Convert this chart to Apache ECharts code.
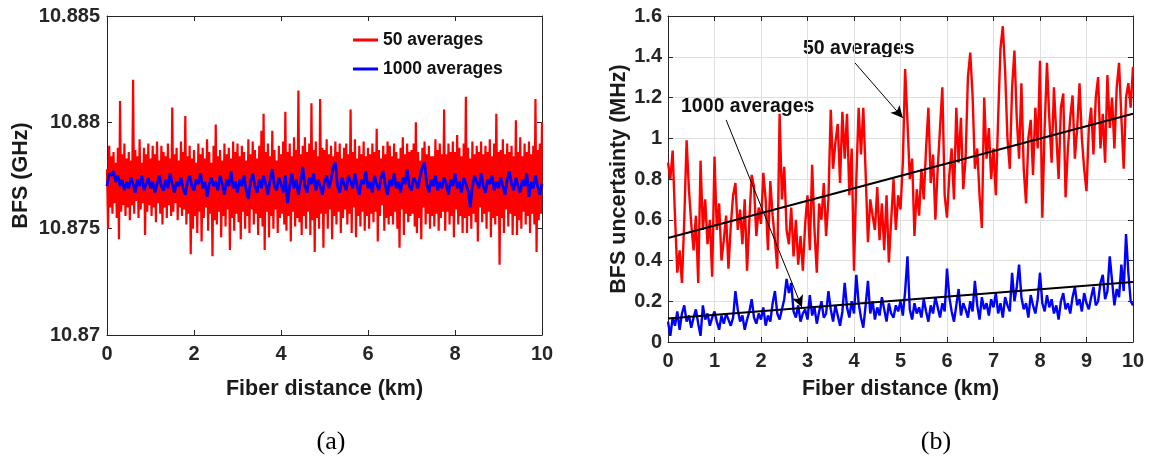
<!DOCTYPE html>
<html>
<head>
<meta charset="utf-8">
<script src="https://cdn.jsdelivr.net/npm/echarts@6/dist/echarts.min.js"></script>
<style>
html,body{margin:0;padding:0;background:#fff;}
#chart{width:1157px;height:459px;}
</style>
</head>
<body>
<div id="chart"></div>
<script>
// ---------- DATA ----------
// sampling positions along the fiber (km)
const distanceKm = Array.from({length: 201}, (_, i) => +(i * 0.05).toFixed(2));      // 0.05 km step
const distanceFineKm = Array.from({length: 401}, (_, i) => +(i * 0.025).toFixed(3)); // 0.025 km step

// (a) BFS (GHz), 50 averages (0.025 km step)
const bfs50 = [
10.8778,10.8750,10.8789,10.8760,10.8784,10.8757,10.8786,10.8762,10.8781,10.8755,10.8788,10.8745,10.8810,10.8758,10.8785,10.8761,10.8790,10.8756,10.8783,10.8760,
10.8786,10.8754,10.8782,10.8761,10.8820,10.8757,10.8787,10.8763,10.8784,10.8755,10.8792,10.8759,10.8781,10.8762,10.8788,10.8747,10.8785,10.8758,10.8790,10.8761,
10.8783,10.8756,10.8789,10.8760,10.8785,10.8753,10.8791,10.8762,10.8782,10.8757,10.8789,10.8752,10.8786,10.8760,10.8784,10.8755,10.8790,10.8761,10.8783,10.8756,
10.8807,10.8758,10.8785,10.8762,10.8788,10.8754,10.8782,10.8760,10.8791,10.8756,10.8786,10.8759,10.8803,10.8752,10.8784,10.8757,10.8789,10.8738,10.8783,10.8750,
10.8787,10.8756,10.8781,10.8748,10.8790,10.8758,10.8785,10.8744,10.8788,10.8755,10.8783,10.8760,10.8792,10.8749,10.8786,10.8757,10.8781,10.8737,10.8789,10.8754,
10.8799,10.8752,10.8784,10.8758,10.8787,10.8746,10.8782,10.8756,10.8790,10.8751,10.8785,10.8759,10.8788,10.8740,10.8783,10.8755,10.8791,10.8749,10.8786,10.8757,
10.8790,10.8753,10.8784,10.8745,10.8789,10.8758,10.8786,10.8750,10.8782,10.8756,10.8792,10.8748,10.8785,10.8759,10.8791,10.8752,10.8787,10.8757,10.8783,10.8747,
10.8789,10.8755,10.8796,10.8751,10.8804,10.8740,10.8786,10.8758,10.8790,10.8746,10.8784,10.8756,10.8796,10.8750,10.8787,10.8759,10.8782,10.8748,10.8789,10.8755,
10.8785,10.8757,10.8791,10.8752,10.8805,10.8749,10.8786,10.8756,10.8790,10.8744,10.8784,10.8758,10.8793,10.8751,10.8787,10.8755,10.8815,10.8753,10.8785,10.8747,
10.8789,10.8756,10.8793,10.8750,10.8786,10.8758,10.8790,10.8747,10.8809,10.8754,10.8787,10.8739,10.8791,10.8755,10.8784,10.8750,10.8811,10.8757,10.8788,10.8741,
10.8787,10.8757,10.8792,10.8750,10.8785,10.8759,10.8789,10.8745,10.8784,10.8756,10.8791,10.8752,10.8786,10.8758,10.8790,10.8748,10.8783,10.8755,10.8788,10.8759,
10.8790,10.8752,10.8785,10.8757,10.8806,10.8748,10.8786,10.8760,10.8792,10.8746,10.8783,10.8756,10.8789,10.8751,10.8785,10.8758,10.8791,10.8749,10.8784,10.8756,
10.8788,10.8750,10.8785,10.8757,10.8790,10.8753,10.8786,10.8758,10.8797,10.8744,10.8787,10.8756,10.8783,10.8761,10.8789,10.8749,10.8785,10.8755,10.8791,10.8752,
10.8789,10.8756,10.8784,10.8752,10.8790,10.8758,10.8786,10.8750,10.8783,10.8741,10.8788,10.8759,10.8793,10.8747,10.8785,10.8757,10.8790,10.8753,10.8786,10.8756,
10.8787,10.8757,10.8790,10.8751,10.8800,10.8748,10.8786,10.8755,10.8782,10.8745,10.8788,10.8760,10.8791,10.8752,10.8785,10.8757,10.8789,10.8750,10.8784,10.8756,
10.8784,10.8751,10.8792,10.8757,10.8787,10.8749,10.8790,10.8755,10.8785,10.8758,10.8806,10.8749,10.8785,10.8758,10.8790,10.8752,10.8786,10.8756,10.8791,10.8746,
10.8786,10.8759,10.8794,10.8752,10.8788,10.8756,10.8784,10.8748,10.8790,10.8755,10.8812,10.8748,10.8788,10.8756,10.8783,10.8750,10.8791,10.8757,10.8785,10.8753,
10.8789,10.8744,10.8786,10.8760,10.8791,10.8753,10.8785,10.8757,10.8789,10.8750,10.8786,10.8758,10.8792,10.8746,10.8784,10.8755,10.8790,10.8752,10.8804,10.8756,
10.8786,10.8733,10.8787,10.8755,10.8792,10.8748,10.8785,10.8759,10.8790,10.8751,10.8786,10.8757,10.8789,10.8747,10.8784,10.8756,10.8801,10.8747,10.8786,10.8754,
10.8793,10.8750,10.8784,10.8758,10.8790,10.8752,10.8786,10.8756,10.8791,10.8748,10.8785,10.8757,10.8789,10.8752,10.8811,10.8739,10.8787,10.8754,10.8790,10.8757,
10.8800];

// (a) BFS (GHz), 1000 averages (0.05 km step)
const bfs1000 = [
10.8770,10.8776,10.8775,10.8777,10.8772,10.8775,10.8770,10.8773,10.8768,10.8772,
10.8769,10.8774,10.8771,10.8767,10.8773,10.8770,10.8775,10.8768,10.8771,10.8774,
10.8769,10.8772,10.8767,10.8771,10.8775,10.8770,10.8768,10.8773,10.8769,10.8776,
10.8771,10.8767,10.8772,10.8770,10.8774,10.8769,10.8766,10.8772,10.8775,10.8770,
10.8768,10.8773,10.8771,10.8776,10.8769,10.8772,10.8765,10.8771,10.8774,10.8770,
10.8772,10.8768,10.8775,10.8771,10.8766,10.8773,10.8770,10.8777,10.8769,10.8772,
10.8767,10.8773,10.8770,10.8775,10.8768,10.8764,10.8772,10.8776,10.8770,10.8767,
10.8773,10.8769,10.8775,10.8771,10.8766,10.8773,10.8778,10.8770,10.8768,10.8774,
10.8771,10.8767,10.8775,10.8762,10.8770,10.8776,10.8769,10.8773,10.8766,10.8772,
10.8779,10.8770,10.8767,10.8774,10.8771,10.8776,10.8768,10.8773,10.8770,10.8766,
10.8772,10.8775,10.8769,10.8773,10.8779,10.8781,10.8770,10.8767,10.8774,10.8771,
10.8768,10.8775,10.8772,10.8769,10.8776,10.8770,10.8766,10.8773,10.8771,10.8777,
10.8769,10.8772,10.8767,10.8775,10.8771,10.8768,10.8774,10.8777,10.8770,10.8766,
10.8773,10.8770,10.8776,10.8769,10.8772,10.8767,10.8774,10.8771,10.8778,10.8770,
10.8768,10.8774,10.8772,10.8769,10.8775,10.8779,10.8781,10.8771,10.8767,10.8773,
10.8770,10.8775,10.8768,10.8772,10.8769,10.8774,10.8771,10.8766,10.8773,10.8770,
10.8776,10.8769,10.8772,10.8767,10.8774,10.8771,10.8768,10.8760,10.8770,10.8775,
10.8772,10.8769,10.8776,10.8770,10.8767,10.8773,10.8771,10.8775,10.8768,10.8772,
10.8769,10.8774,10.8770,10.8766,10.8773,10.8777,10.8771,10.8768,10.8774,10.8770,
10.8767,10.8773,10.8770,10.8776,10.8765,10.8772,10.8769,10.8775,10.8770,10.8766,
10.8771];

// (b) BFS uncertainty (MHz), 50 averages (0.05 km step)
const unc50 = [
0.88,0.80,0.94,0.62,0.34,0.45,0.29,0.60,0.99,0.75,
0.58,0.45,0.62,0.29,0.89,0.55,0.70,0.48,0.60,0.32,
0.91,0.55,0.68,0.40,0.50,0.62,0.36,0.57,0.72,0.78,
0.55,0.65,0.48,0.70,0.35,0.60,0.82,0.76,0.52,0.66,
0.58,0.83,0.70,0.45,0.79,0.62,0.50,0.36,1.12,0.70,
0.86,0.55,0.48,0.66,0.42,0.60,0.38,0.52,0.35,0.58,
0.72,0.45,0.87,0.55,0.34,0.68,0.60,0.78,0.52,0.70,
1.14,0.85,0.98,1.07,0.78,1.13,0.90,1.12,0.72,0.95,
0.35,0.80,1.15,0.92,1.15,0.83,0.49,0.70,0.62,0.55,
0.76,0.50,0.68,0.45,0.72,0.39,0.60,0.80,0.55,0.72,
0.65,0.88,1.34,1.08,0.80,0.90,0.52,0.75,0.62,0.85,
0.70,0.95,1.15,0.78,0.92,0.60,0.85,1.05,1.25,0.72,
0.61,0.82,0.95,0.70,1.15,0.88,1.10,0.75,0.90,1.30,
1.42,1.21,0.85,0.95,0.72,0.56,1.20,0.90,1.05,0.80,
0.95,0.72,1.10,1.44,1.55,1.33,1.00,0.85,1.25,1.43,
1.10,0.90,1.27,0.85,0.68,1.00,1.09,0.82,1.15,0.95,
1.38,0.61,1.05,1.37,1.10,0.88,1.25,1.02,0.80,1.15,
1.22,0.71,0.95,1.10,1.21,0.90,1.05,1.27,1.00,0.85,
0.74,1.05,1.15,0.92,1.20,1.30,0.95,1.12,0.88,1.31,
1.05,1.20,0.95,1.25,1.37,1.10,0.85,1.20,1.27,1.15,
1.35];

// (b) BFS uncertainty (MHz), 1000 averages (0.05 km step)
const unc1000 = [
0.10,0.03,0.12,0.08,0.15,0.06,0.14,0.18,0.10,0.13,
0.07,0.12,0.16,0.09,0.03,0.18,0.11,0.14,0.08,0.12,
0.15,0.10,0.06,0.13,0.09,0.14,0.11,0.08,0.12,0.25,
0.16,0.10,0.13,0.06,0.11,0.15,0.21,0.12,0.09,0.14,
0.11,0.17,0.08,0.13,0.10,0.19,0.25,0.14,0.11,0.16,
0.21,0.31,0.24,0.29,0.15,0.12,0.18,0.10,0.14,0.16,
0.11,0.23,0.13,0.17,0.09,0.15,0.20,0.12,0.14,0.25,
0.16,0.10,0.18,0.13,0.08,0.15,0.29,0.17,0.12,0.20,
0.14,0.33,0.19,0.12,0.07,0.18,0.30,0.14,0.20,0.11,
0.17,0.13,0.22,0.16,0.10,0.19,0.14,0.12,0.18,0.15,
0.20,0.13,0.25,0.42,0.16,0.11,0.19,0.14,0.17,0.12,
0.21,0.15,0.10,0.18,0.14,0.22,0.17,0.12,0.19,0.15,
0.36,0.22,0.15,0.10,0.18,0.26,0.13,0.19,0.16,0.12,
0.20,0.15,0.30,0.18,0.11,0.22,0.16,0.19,0.13,0.21,
0.17,0.24,0.14,0.19,0.12,0.22,0.18,0.15,0.34,0.20,
0.27,0.38,0.22,0.16,0.19,0.12,0.23,0.18,0.14,0.21,
0.34,0.19,0.15,0.23,0.17,0.21,0.14,0.18,0.11,0.20,
0.24,0.16,0.19,0.14,0.22,0.27,0.18,0.21,0.15,0.24,
0.19,0.16,0.22,0.27,0.18,0.20,0.29,0.33,0.21,0.25,
0.42,0.30,0.18,0.26,0.22,0.38,0.25,0.53,0.34,0.20,
0.18];

// linear fits (endpoints at 0 and 10 km)
const fitX = [0, 10];
const fit50 = [0.51, 1.12];
const fit1000 = [0.115, 0.295];

// annotation arrows: [tail, head] in (km, MHz)
const arrow50 = [[4.02, 1.37], [5.05, 1.10]];
const arrow1000 = [[1.25, 1.09], [2.88, 0.17]];

const seriesNames = ['50 averages', '1000 averages'];
const panelLabels = ['(a)', '(b)'];

// ---------- CHART ----------
const pair = (xs, ys) => ys.map((v, i) => [xs[i], v]);
const FONT = 'Liberation Sans';
const AX = '#262626';

function mainX(gi, interval, gap, splitShow) {
  return {
    gridIndex: gi, type: 'value', min: 0, max: 10, interval: interval, position: 'bottom',
    name: 'Fiber distance (km)', nameLocation: 'middle', nameGap: gap,
    nameTextStyle: {fontFamily: FONT, fontWeight: 'bold', fontSize: 21.5, color: '#1a1a1a'},
    axisLine: {show: true, onZero: false, lineStyle: {color: AX, width: 1}},
    axisTick: {show: true, inside: true, length: 5, lineStyle: {color: AX}},
    axisLabel: {fontFamily: FONT, fontWeight: 'bold', fontSize: 20, color: AX, margin: 9},
    splitLine: {show: splitShow, lineStyle: {color: '#dfdfdf', width: 1}}
  };
}
function boxX(gi, interval) {
  return {
    gridIndex: gi, type: 'value', min: 0, max: 10, interval: interval, position: 'top',
    axisLine: {show: true, onZero: false, lineStyle: {color: AX, width: 1}},
    axisTick: {show: true, inside: true, length: 5, lineStyle: {color: AX}},
    axisLabel: {show: false}, splitLine: {show: false}
  };
}
function boxY(gi, min, max, interval) {
  return {
    gridIndex: gi, type: 'value', min: min, max: max, interval: interval, position: 'right',
    axisLine: {show: true, onZero: false, lineStyle: {color: AX, width: 1}},
    axisTick: {show: true, inside: true, length: 5, lineStyle: {color: AX}},
    axisLabel: {show: false}, splitLine: {show: false}
  };
}

const chart = echarts.init(document.getElementById('chart'), null, {renderer: 'canvas'});
chart.setOption({
  animation: false,
  backgroundColor: '#ffffff',
  grid: [
    {left: 107, top: 16, width: 435, height: 319},
    {left: 668, top: 16, width: 465, height: 326}
  ],
  xAxis: [
    mainX(0, 2, 43, false),
    boxX(0, 2),
    mainX(1, 1, 36, true),
    boxX(1, 1)
  ],
  yAxis: [
    {
      gridIndex: 0, type: 'value', min: 10.87, max: 10.885, interval: 0.005, position: 'left',
      name: 'BFS (GHz)', nameLocation: 'middle', nameGap: 75,
      nameTextStyle: {fontFamily: FONT, fontWeight: 'bold', fontSize: 21.5, color: '#1a1a1a'},
      axisLine: {show: true, onZero: false, lineStyle: {color: AX, width: 1}},
      axisTick: {show: true, inside: true, length: 5, lineStyle: {color: AX}},
      axisLabel: {fontFamily: FONT, fontWeight: 'bold', fontSize: 20, color: AX, margin: 7,
        formatter: v => String(+v.toFixed(3))},
      splitLine: {show: false}
    },
    boxY(0, 10.87, 10.885, 0.005),
    {
      gridIndex: 1, type: 'value', min: 0, max: 1.6, interval: 0.2, position: 'left',
      name: 'BFS uncertainty (MHz)', nameLocation: 'middle', nameGap: 37,
      nameTextStyle: {fontFamily: FONT, fontWeight: 'bold', fontSize: 21.5, color: '#1a1a1a'},
      axisLine: {show: true, onZero: false, lineStyle: {color: AX, width: 1}},
      axisTick: {show: true, inside: true, length: 5, lineStyle: {color: AX}},
      axisLabel: {fontFamily: FONT, fontWeight: 'bold', fontSize: 20, color: AX, margin: 6,
        formatter: v => String(+v.toFixed(1))},
      splitLine: {show: true, lineStyle: {color: '#dfdfdf', width: 1}}
    },
    boxY(1, 0, 1.6, 0.2)
  ],
  legend: {
    left: 348, top: 26, orient: 'vertical', itemGap: 11,
    itemWidth: 25, itemHeight: 3, icon: 'rect',
    data: [seriesNames[0], seriesNames[1]],
    textStyle: {fontFamily: FONT, fontWeight: 'bold', fontSize: 17.5, color: '#111'}
  },
  series: [
    {name: seriesNames[0], type: 'line', xAxisIndex: 0, yAxisIndex: 0, showSymbol: false,
      data: pair(distanceFineKm, bfs50), lineStyle: {color: '#ff0000', width: 2.2}, itemStyle: {color: '#ff0000'}},
    {name: seriesNames[1], type: 'line', xAxisIndex: 0, yAxisIndex: 0, showSymbol: false,
      data: pair(distanceKm, bfs1000), lineStyle: {color: '#0000ff', width: 2.8}, itemStyle: {color: '#0000ff'}},
    {name: 'unc50', type: 'line', xAxisIndex: 2, yAxisIndex: 2, showSymbol: false,
      data: pair(distanceKm, unc50), lineStyle: {color: '#ff0000', width: 2.4}, itemStyle: {color: '#ff0000'}},
    {name: 'unc1000', type: 'line', xAxisIndex: 2, yAxisIndex: 2, showSymbol: false,
      data: pair(distanceKm, unc1000), lineStyle: {color: '#0000ff', width: 2.4}, itemStyle: {color: '#0000ff'}},
    {name: 'fit50', type: 'line', xAxisIndex: 2, yAxisIndex: 2, showSymbol: false,
      data: pair(fitX, fit50), lineStyle: {color: '#000', width: 2}},
    {name: 'fit1000', type: 'line', xAxisIndex: 2, yAxisIndex: 2, showSymbol: false,
      data: pair(fitX, fit1000), lineStyle: {color: '#000', width: 2},
      markLine: {
        silent: true, symbol: ['none', 'arrow'], symbolSize: [9, 12],
        label: {show: false},
        lineStyle: {color: '#000', width: 1, type: 'solid'},
        data: [
          [{coord: arrow50[0]}, {coord: arrow50[1]}],
          [{coord: arrow1000[0]}, {coord: arrow1000[1]}]
        ]
      }}
  ],
  graphic: [
    {type: 'text', left: 803, top: 39, style: {text: seriesNames[0], font: 'bold 19.5px "Liberation Sans"', fill: '#111'}},
    {type: 'text', left: 681, top: 97, style: {text: seriesNames[1], font: 'bold 19.5px "Liberation Sans"', fill: '#111'}},
    {type: 'text', x: 331, y: 442, style: {text: panelLabels[0], font: '26px "Liberation Serif"', fill: '#000', align: 'center', verticalAlign: 'middle'}},
    {type: 'text', x: 936, y: 442, style: {text: panelLabels[1], font: '26px "Liberation Serif"', fill: '#000', align: 'center', verticalAlign: 'middle'}}
  ]
});
</script>
</body>
</html>
